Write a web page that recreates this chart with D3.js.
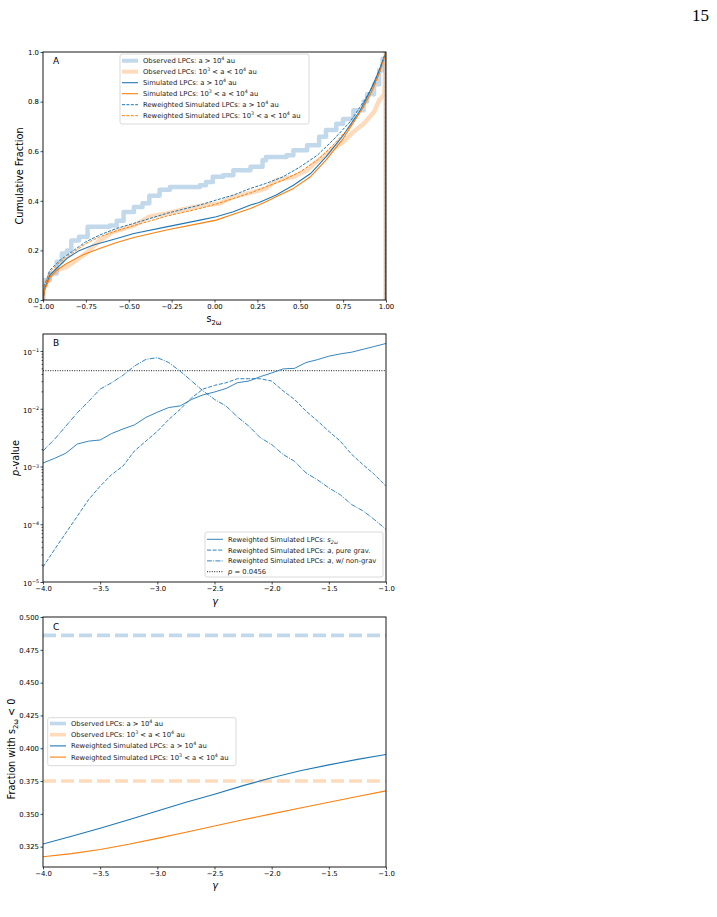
<!DOCTYPE html>
<html>
<head>
<meta charset="utf-8">
<script src="https://cdn.jsdelivr.net/npm/d3@7"></script>
<style>
  body { margin: 0; background: #fff; }
  svg { display: block; font-family: 'DejaVu Sans', sans-serif; }
</style>
</head>
<body>
<div id="chart"></div>
<script>
// ---- panel A: cumulative fractions of s_2w ----
const obsFar = [[-1,0],[-1,0.08],[-0.98,0.08],[-0.96,0.107],[-0.92,0.154],[-0.89,0.188],[-0.86,0.2],[-0.835,0.24],
  [-0.79,0.255],[-0.74,0.295],[-0.61,0.30],[-0.57,0.32],[-0.53,0.355],[-0.47,0.375],[-0.42,0.39],[-0.38,0.42],
  [-0.32,0.445],[-0.26,0.456],[-0.085,0.463],[-0.05,0.476],[-0.01,0.497],[0.05,0.503],[0.11,0.523],[0.21,0.537],
  [0.28,0.564],[0.30,0.577],[0.42,0.584],[0.46,0.604],[0.54,0.624],[0.61,0.658],[0.65,0.685],[0.71,0.711],
  [0.75,0.73],[0.81,0.765],[0.87,0.80],[0.89,0.83],[0.93,0.87],[0.96,0.926],[0.98,0.973],[1,1],[1,0]];
const obsNear = [[-1,0],[-1,0.054],[-0.99,0.054],[-0.96,0.094],[-0.92,0.12],[-0.86,0.134],[-0.805,0.161],[-0.75,0.188],
  [-0.67,0.24],[-0.59,0.275],[-0.47,0.30],[-0.38,0.336],[-0.28,0.349],[-0.16,0.369],[-0.05,0.383],[0.03,0.389],
  [0.11,0.416],[0.23,0.436],[0.30,0.45],[0.36,0.483],[0.46,0.497],[0.54,0.523],[0.58,0.55],[0.63,0.577],
  [0.69,0.61],[0.75,0.638],[0.81,0.678],[0.87,0.711],[0.93,0.758],[0.96,0.805],[0.99,0.83],[1,1],[1,0]];
const simFar = [[-1,0],[-0.99,0.047],[-0.96,0.10],[-0.92,0.128],[-0.86,0.168],[-0.79,0.199],[-0.71,0.221],
  [-0.57,0.248],[-0.47,0.268],[-0.28,0.295],[-0.085,0.322],[0.01,0.336],[0.11,0.356],[0.21,0.383],[0.26,0.393],
  [0.36,0.423],[0.46,0.463],[0.56,0.51],[0.65,0.577],[0.75,0.664],[0.85,0.765],[0.91,0.846],[0.96,0.926],[1,1],[1,0]];
const simNear = [[-1,0],[-0.99,0.04],[-0.96,0.091],[-0.92,0.12],[-0.86,0.148],[-0.77,0.181],[-0.67,0.208],
  [-0.57,0.232],[-0.47,0.252],[-0.28,0.282],[-0.085,0.309],[0.01,0.322],[0.11,0.346],[0.21,0.369],[0.30,0.396],
  [0.38,0.423],[0.46,0.45],[0.56,0.497],[0.65,0.564],[0.75,0.651],[0.85,0.758],[0.91,0.832],[0.96,0.913],[1,1],[1,0]];
const rwFar = [[-1,0],[-0.99,0.06],[-0.96,0.12],[-0.90,0.161],[-0.845,0.188],[-0.75,0.235],[-0.67,0.262],
  [-0.57,0.289],[-0.47,0.309],[-0.28,0.349],[-0.085,0.383],[0.01,0.403],[0.11,0.423],[0.21,0.45],[0.30,0.47],
  [0.40,0.497],[0.50,0.537],[0.60,0.584],[0.69,0.644],[0.79,0.718],[0.87,0.80],[0.93,0.872],[0.975,0.953],[1,1],[1,0]];
const rwNear = [[-1,0],[-0.99,0.054],[-0.96,0.114],[-0.90,0.154],[-0.845,0.181],[-0.75,0.228],[-0.67,0.255],
  [-0.57,0.279],[-0.47,0.30],[-0.28,0.338],[-0.085,0.369],[0.01,0.387],[0.11,0.409],[0.21,0.432],[0.30,0.456],
  [0.40,0.483],[0.50,0.517],[0.60,0.564],[0.69,0.624],[0.79,0.698],[0.87,0.779],[0.93,0.859],[0.975,0.94],[1,1],[1,0]];
const ticksAx = [-1, -0.75, -0.5, -0.25, 0, 0.25, 0.5, 0.75, 1];
const ticksAy = [0, 0.2, 0.4, 0.6, 0.8, 1.0];

// ---- panel B: p-values vs gamma ----
const gammaB = [-4.0,-3.9,-3.8,-3.7,-3.6,-3.5,-3.4,-3.3,-3.2,-3.1,-3.0,-2.9,-2.8,-2.7,-2.6,-2.5,
  -2.4,-2.3,-2.2,-2.1,-2.0,-1.9,-1.8,-1.7,-1.6,-1.5,-1.4,-1.3,-1.2,-1.1,-1.0];
const pS2w = [1.15e-3,1.38e-3,1.70e-3,2.45e-3,2.75e-3,2.88e-3,3.72e-3,4.47e-3,5.25e-3,7.08e-3,8.71e-3,
  1.05e-2,1.12e-2,1.45e-2,1.74e-2,1.95e-2,2.24e-2,2.82e-2,3.02e-2,3.59e-2,4.17e-2,4.90e-2,5.01e-2,
  6.31e-2,7.08e-2,8.13e-2,8.91e-2,9.55e-2,0.107,0.120,0.135];
const pGrav = [1.82e-5,3.63e-5,7.08e-5,1.38e-4,2.69e-4,4.57e-4,7.24e-4,1.02e-3,1.86e-3,2.75e-3,4.07e-3,
  6.53e-3,9.77e-3,1.55e-2,2.19e-2,2.54e-2,2.82e-2,3.31e-2,3.31e-2,3.31e-2,3.02e-2,2.04e-2,1.45e-2,
  9.12e-3,6.17e-3,4.07e-3,2.75e-3,1.62e-3,1.07e-3,7.24e-4,4.57e-4];
const pNonGrav = [1.86e-3,2.95e-3,5.01e-3,8.51e-3,1.35e-2,2.19e-2,2.82e-2,3.80e-2,5.50e-2,7.16e-2,7.67e-2,
  6.31e-2,4.47e-2,3.02e-2,2.04e-2,1.45e-2,1.12e-2,7.24e-3,5.01e-3,3.16e-3,2.40e-3,1.62e-3,1.23e-3,
  7.76e-4,5.89e-4,4.27e-4,3.24e-4,2.19e-4,1.70e-4,1.20e-4,8.13e-5];
const pThreshold = 0.0456;
const ticksBy = [1e-5, 1e-4, 1e-3, 1e-2, 1e-1];
const ticksGamma = [-4, -3.5, -3, -2.5, -2, -1.5, -1];

// ---- panel C: fraction with s_2w < 0 ----
const gammaC = [-4.0,-3.75,-3.5,-3.25,-3.0,-2.75,-2.5,-2.25,-2.0,-1.75,-1.5,-1.25,-1.0];
const fracFar = [0.327,0.333,0.339,0.3455,0.3522,0.3588,0.365,0.3715,0.3775,0.3828,0.3873,0.3915,0.3952];
const fracNear = [0.3173,0.3197,0.3228,0.3268,0.3313,0.336,0.3408,0.3455,0.35,0.3545,0.3588,0.3632,0.3675];
const obsFracFar = 0.486;
const obsFracNear = 0.375;
const ticksCy = [0.325, 0.35, 0.375, 0.4, 0.425, 0.45, 0.475, 0.5];

const blue = '#1f77b4', orange = '#ff7f0e';
const tickFont = 6.9, labelFont = 9.7, legendFont = 6.8;

const svg = d3.select('#chart').append('svg')
  .attr('width', 717).attr('height', 917);
svg.append('rect').attr('width', 717).attr('height', 917).attr('fill', '#fff');

// page number
svg.append('text').attr('x', 709).attr('y', 21).attr('text-anchor', 'end')
  .attr('font-family', "'Liberation Serif', serif").attr('font-size', 17).text('15');

// write text made of pieces: mode may contain 'sup', 'sub', 'it'
function rich(t, parts) {
  const fs = +t.attr('font-size');
  let shift = 0;
  parts.forEach(([s, m]) => {
    m = m || '';
    const ts = t.append('tspan').text(s);
    const target = m.includes('sup') ? -0.42 * fs : m.includes('sub') ? 0.28 * fs : 0;
    if (target !== shift) { ts.attr('dy', target - shift); shift = target; }
    if (m.includes('sup') || m.includes('sub')) ts.attr('font-size', fs * 0.7);
    if (m.includes('it')) ts.attr('font-style', 'italic');
  });
  return t;
}

function makePanel(id, top, bottom) {
  const left = 43, right = 386;
  const g = svg.append('g');
  g.append('clipPath').attr('id', 'clip' + id)
    .append('rect').attr('x', left).attr('y', top).attr('width', right - left).attr('height', bottom - top);
  const plot = g.append('g').attr('clip-path', `url(#clip${id})`);
  return { g, plot, left, right, top, bottom };
}

function frame(p) {
  p.g.append('rect').attr('x', p.left).attr('y', p.top)
    .attr('width', p.right - p.left).attr('height', p.bottom - p.top)
    .attr('fill', 'none').attr('stroke', '#000').attr('stroke-width', 0.9);
}

function styleAxis(ax) {
  ax.select('.domain').remove();
  ax.selectAll('.tick line').attr('stroke', '#000').attr('stroke-width', 0.7);
  ax.selectAll('.tick text').attr('font-size', tickFont).attr('fill', '#000')
    .attr('font-family', "'DejaVu Sans', sans-serif");
}

function legend(p, x, y, w, h, rows, rowY0, rowGap, handleX) {
  const lg = p.g.append('g');
  lg.append('rect').attr('x', x).attr('y', y).attr('width', w).attr('height', h)
    .attr('rx', 2).attr('fill', '#fff').attr('fill-opacity', 0.8)
    .attr('stroke', '#d0d0d0').attr('stroke-width', 0.8);
  rows.forEach((r, i) => {
    const yy = rowY0 + i * rowGap;
    lg.append('line').attr('x1', handleX).attr('x2', handleX + 16).attr('y1', yy).attr('y2', yy)
      .attr('stroke', r.color).attr('stroke-width', r.width).attr('stroke-opacity', r.opacity || 1)
      .attr('stroke-dasharray', r.dash || null);
    rich(lg.append('text').attr('x', handleX + 21).attr('y', yy + 2.4)
      .attr('font-size', legendFont).attr('fill', '#222'), r.label);
  });
}

// ================= Panel A =================
const pA = makePanel('A', 52, 300);
const xA = d3.scaleLinear().domain([-1, 1]).range([pA.left, pA.right]);
const yA = d3.scaleLinear().domain([0, 1]).range([pA.bottom, pA.top]);
const lineA = d3.line().x(d => xA(d[0])).y(d => yA(d[1]));
const stepA = d3.line().x(d => xA(d[0])).y(d => yA(d[1])).curve(d3.curveStepAfter);

const seriesA = [
  { data: obsFar, color: blue, width: 4.5, opacity: 0.28, gen: stepA },
  { data: obsNear, color: orange, width: 4.5, opacity: 0.28, gen: lineA },
  { data: simFar, color: blue, width: 1.1, gen: lineA },
  { data: simNear, color: orange, width: 1.1, gen: lineA },
  { data: rwFar, color: blue, width: 1.0, dash: '3,1.4', gen: lineA },
  { data: rwNear, color: orange, width: 1.0, dash: '3,1.4', gen: lineA }
];
seriesA.forEach(s => {
  pA.plot.append('path').attr('d', s.gen(s.data)).attr('fill', 'none')
    .attr('stroke', s.color).attr('stroke-width', s.width).attr('stroke-opacity', s.opacity || 1)
    .attr('stroke-dasharray', s.dash || null).attr('stroke-linejoin', 'round');
});
frame(pA);

const axAx = pA.g.append('g').attr('transform', `translate(0,${pA.bottom})`)
  .call(d3.axisBottom(xA).tickValues(ticksAx).tickFormat(d3.format('.2f')).tickSize(2.5).tickPadding(1.5));
styleAxis(axAx);
const axAy = pA.g.append('g').attr('transform', `translate(${pA.left},0)`)
  .call(d3.axisLeft(yA).tickValues(ticksAy).tickFormat(d3.format('.1f')).tickSize(2.5).tickPadding(1.5));
styleAxis(axAy);

pA.g.append('text').attr('x', 53).attr('y', 64).attr('font-size', 9).text('A');
rich(pA.g.append('text').attr('x', 214).attr('y', 322).attr('text-anchor', 'middle')
  .attr('font-size', labelFont), [['s'], ['2ω', 'sub']]);
pA.g.append('text').attr('transform', `translate(23,${(pA.top + pA.bottom) / 2}) rotate(-90)`)
  .attr('text-anchor', 'middle').attr('font-size', labelFont).text('Cumulative Fraction');

legend(pA, 120, 54, 189, 70, [
  { color: blue, width: 4, opacity: 0.28, label: [['Observed LPCs: a > 10'], ['4', 'sup'], [' au']] },
  { color: orange, width: 4, opacity: 0.28, label: [['Observed LPCs: 10'], ['3', 'sup'], [' < a < 10'], ['4', 'sup'], [' au']] },
  { color: blue, width: 1.1, label: [['Simulated LPCs: a > 10'], ['4', 'sup'], [' au']] },
  { color: orange, width: 1.1, label: [['Simulated LPCs: 10'], ['3', 'sup'], [' < a < 10'], ['4', 'sup'], [' au']] },
  { color: blue, width: 1.0, dash: '3,1.4', label: [['Reweighted Simulated LPCs: a > 10'], ['4', 'sup'], [' au']] },
  { color: orange, width: 1.0, dash: '3,1.4', label: [['Reweighted Simulated LPCs: 10'], ['3', 'sup'], [' < a < 10'], ['4', 'sup'], [' au']] }
], 60.7, 11, 122);

// ================= Panel B =================
const pB = makePanel('B', 334, 582);
const xB = d3.scaleLinear().domain([-4, -1]).range([pB.left, pB.right]);
const yB = d3.scaleLog().domain([1e-5, 0.197]).range([pB.bottom, pB.top]);
const lineB = d3.line().x(d => xB(d[0])).y(d => yB(d[1]));

pB.plot.append('line').attr('x1', pB.left).attr('x2', pB.right)
  .attr('y1', yB(pThreshold)).attr('y2', yB(pThreshold))
  .attr('stroke', '#000').attr('stroke-width', 0.9).attr('stroke-dasharray', '1,1.4');
[[pS2w, null], [pGrav, '4,1.6'], [pNonGrav, '5,1.2,1,1.2']].forEach(([vals, dash]) => {
  pB.plot.append('path').attr('d', lineB(gammaB.map((g, i) => [g, vals[i]])))
    .attr('fill', 'none').attr('stroke', blue).attr('stroke-width', 0.9)
    .attr('stroke-dasharray', dash).attr('stroke-linejoin', 'round');
});
frame(pB);

const axBx = pB.g.append('g').attr('transform', `translate(0,${pB.bottom})`)
  .call(d3.axisBottom(xB).tickValues(ticksGamma).tickFormat(d3.format('.1f')).tickSize(2.5).tickPadding(1.5));
styleAxis(axBx);
const minorB = [];
ticksBy.forEach(t => [2, 3, 4, 5, 6, 7, 8, 9].forEach(k => { if (t * k < 0.197) minorB.push(t * k); }));
const axBm = pB.g.append('g').attr('transform', `translate(${pB.left},0)`)
  .call(d3.axisLeft(yB).tickValues(minorB).tickFormat('').tickSize(1.4));
styleAxis(axBm);
const axBy = pB.g.append('g').attr('transform', `translate(${pB.left},0)`)
  .call(d3.axisLeft(yB).tickValues(ticksBy).tickSize(2.5).tickPadding(1.5));
styleAxis(axBy);
axBy.selectAll('.tick text').text('').attr('dy', '0.5em').each(function (d) {
  rich(d3.select(this), [['10'], ['−' + Math.round(-Math.log10(d)), 'sup']]);
});

pB.g.append('text').attr('x', 53).attr('y', 346).attr('font-size', 9).text('B');
pB.g.append('text').attr('x', 215).attr('y', 605).attr('text-anchor', 'middle')
  .attr('font-size', labelFont).attr('font-style', 'italic').text('γ');
rich(pB.g.append('text').attr('transform', `translate(19,${(pB.top + pB.bottom) / 2}) rotate(-90)`)
  .attr('text-anchor', 'middle').attr('font-size', labelFont), [['p', 'it'], ['-value']]);

legend(pB, 205, 532, 178, 45, [
  { color: blue, width: 0.9, label: [['Reweighted Simulated LPCs: '], ['s', 'it'], ['2ω', 'sub it']] },
  { color: blue, width: 0.9, dash: '4,1.6', label: [['Reweighted Simulated LPCs: '], ['a', 'it'], [', pure grav.']] },
  { color: blue, width: 0.9, dash: '5,1.2,1,1.2', label: [['Reweighted Simulated LPCs: '], ['a', 'it'], [', w/ non-grav']] },
  { color: '#000', width: 0.9, dash: '1,1.4', label: [['p', 'it'], [' = 0.0456']] }
], 539.3, 10.8, 207);

// ================= Panel C =================
const pC = makePanel('C', 617, 867);
const xC = d3.scaleLinear().domain([-4, -1]).range([pC.left, pC.right]);
const yC = d3.scaleLinear().domain([0.3095, 0.5]).range([pC.bottom, pC.top]);
const lineC = d3.line().x(d => xC(d[0])).y(d => yC(d[1]));

[[obsFracFar, blue], [obsFracNear, orange]].forEach(([v, c]) => {
  pC.plot.append('line').attr('x1', xC(-4)).attr('x2', xC(-1)).attr('y1', yC(v)).attr('y2', yC(v))
    .attr('stroke', c).attr('stroke-opacity', 0.28).attr('stroke-width', 3.6).attr('stroke-dasharray', '13,5');
});
[[fracFar, blue], [fracNear, orange]].forEach(([vals, c]) => {
  pC.plot.append('path').attr('d', lineC(d3.zip(gammaC, vals)))
    .attr('fill', 'none').attr('stroke', c).attr('stroke-width', 1.1);
});
frame(pC);

const axCx = pC.g.append('g').attr('transform', `translate(0,${pC.bottom})`)
  .call(d3.axisBottom(xC).tickValues(ticksGamma).tickFormat(d3.format('.1f')).tickSize(2.5).tickPadding(1.5));
styleAxis(axCx);
const axCy = pC.g.append('g').attr('transform', `translate(${pC.left},0)`)
  .call(d3.axisLeft(yC).tickValues(ticksCy).tickFormat(d3.format('.3f')).tickSize(2.5).tickPadding(1.5));
styleAxis(axCy);

pC.g.append('text').attr('x', 53).attr('y', 630).attr('font-size', 9).text('C');
pC.g.append('text').attr('x', 215).attr('y', 889).attr('text-anchor', 'middle')
  .attr('font-size', labelFont).attr('font-style', 'italic').text('γ');
rich(pC.g.append('text').attr('transform', `translate(15,749) rotate(-90)`)
  .attr('text-anchor', 'middle').attr('font-size', labelFont), [['Fraction with s'], ['2ω', 'sub'], [' < 0']]);

legend(pC, 47.7, 717.7, 188.3, 48, [
  { color: blue, width: 3.6, opacity: 0.28, label: [['Observed LPCs: a > 10'], ['4', 'sup'], [' au']] },
  { color: orange, width: 3.6, opacity: 0.28, label: [['Observed LPCs: 10'], ['3', 'sup'], [' < a < 10'], ['4', 'sup'], [' au']] },
  { color: blue, width: 1.1, label: [['Reweighted Simulated LPCs: a > 10'], ['4', 'sup'], [' au']] },
  { color: orange, width: 1.1, label: [['Reweighted Simulated LPCs: 10'], ['3', 'sup'], [' < a < 10'], ['4', 'sup'], [' au']] }
], 723.5, 11.2, 50);
</script>
</body>
</html>
